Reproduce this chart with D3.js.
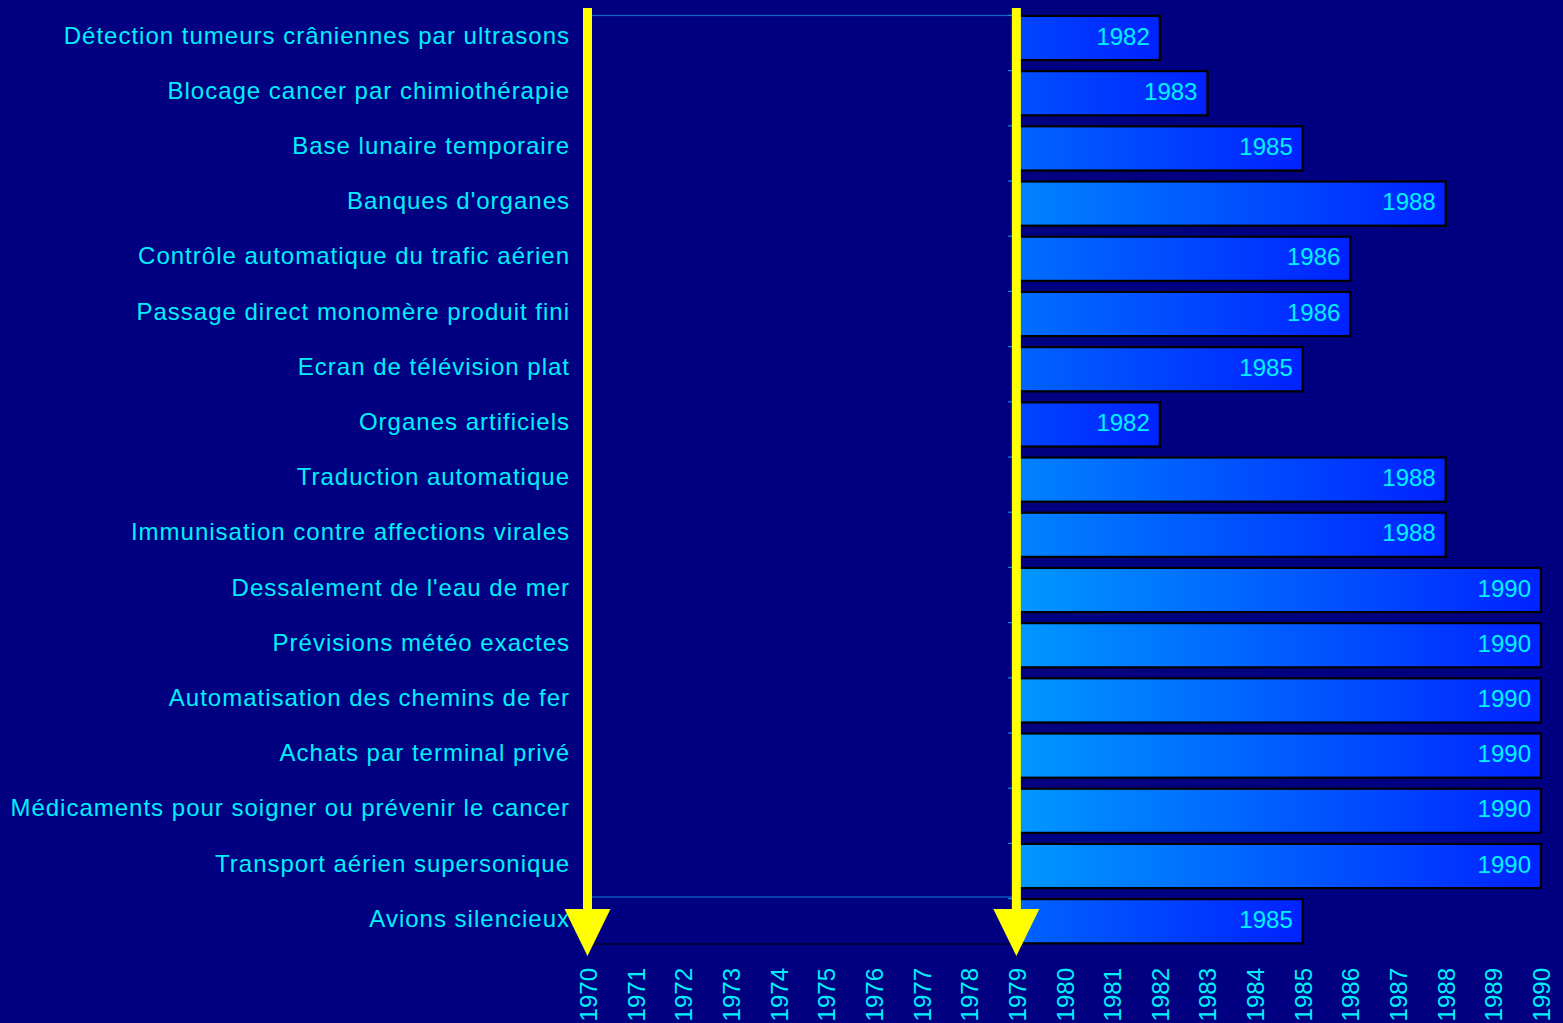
<!DOCTYPE html>
<html>
<head>
<meta charset="utf-8">
<script src="https://cdn.jsdelivr.net/npm/d3@7"></script>
<style>
  html, body { margin: 0; padding: 0; background: #000080; }
  svg { display: block; }
  text { font-family: "Liberation Sans", Arial, sans-serif; }
</style>
</head>
<body>
<div id="chart"></div>
<script>
// categories (top to bottom) and the year each one is expected
const categories = [
  "Détection tumeurs crâniennes par ultrasons",
  "Blocage cancer par chimiothérapie",
  "Base lunaire temporaire",
  "Banques d'organes",
  "Contrôle automatique du trafic aérien",
  "Passage direct monomère produit fini",
  "Ecran de télévision plat",
  "Organes artificiels",
  "Traduction automatique",
  "Immunisation contre affections virales",
  "Dessalement de l'eau de mer",
  "Prévisions météo exactes",
  "Automatisation des chemins de fer",
  "Achats par terminal privé",
  "Médicaments pour soigner ou prévenir le cancer",
  "Transport aérien supersonique",
  "Avions silencieux"
]
const years = [1982, 1983, 1985, 1988, 1986, 1986, 1985, 1982, 1988, 1988,
               1990, 1990, 1990, 1990, 1990, 1990, 1985]
const startYear = 1979
const arrowYears = [1970, 1979]
const tickYears = d3.range(1970, 1991)

const width = 1563, height = 1023
const cyan = '#00f0ff'

const svg = d3.select('#chart').append('svg')
  .attr('width', width)
  .attr('height', height)

svg.append('rect')
  .attr('width', width)
  .attr('height', height)
  .attr('fill', '#000080')

const x = d3.scaleLinear()
  .domain([1970, 1990])
  .range([588, 1541])

const y = d3.scaleBand()
  .domain(categories)
  .range([10.4, 948.8])
  .paddingInner(0.2)
  .paddingOuter(0.1)

const defs = svg.append('defs')
const maxW = x(1990) - x(startYear)
const shade = d3.interpolateRgb('#0026ff', '#0098ff')

// plot frame over the empty years
svg.append('rect')
  .attr('x', x(1970) + 3)
  .attr('y', 15.5)
  .attr('width', x(startYear) - x(1970) - 4)
  .attr('height', 881.5)
  .attr('fill', 'none')
  .attr('stroke', '#0a6ad0')
  .attr('stroke-width', 1.2)

// small ticks on the category axis
svg.selectAll('.ytick')
  .data(categories)
  .join('line')
  .attr('class', 'ytick')
  .attr('x1', x(startYear) - 9)
  .attr('x2', x(startYear) + 4)
  .attr('y1', d => y(d) - 0.5)
  .attr('y2', d => y(d) - 0.5)
  .attr('stroke', '#0a8ae8')
  .attr('stroke-width', 1.2)

// bars
const bars = svg.selectAll('.bar')
  .data(categories.map((c, i) => ({ c, v: years[i], i })))
  .join('g')
  .attr('class', 'bar')

bars.each(function(d) {
  const w = x(d.v) - x(startYear)
  const g = defs.append('linearGradient')
    .attr('id', 'grad' + d.i)
    .attr('x1', '0%').attr('x2', '100%')
    .attr('y1', '0%').attr('y2', '0%')
  g.append('stop').attr('offset', '0%').attr('stop-color', shade(w / maxW))
  g.append('stop').attr('offset', '100%').attr('stop-color', '#0022ff')
})

bars.append('rect')
  .attr('x', d => x(startYear) + 1)
  .attr('y', d => y(d.c) + 1)
  .attr('width', d => x(d.v) - x(startYear))
  .attr('height', y.bandwidth())
  .attr('fill', '#000')

bars.append('rect')
  .attr('x', d => x(startYear))
  .attr('y', d => y(d.c))
  .attr('width', d => x(d.v) - x(startYear))
  .attr('height', y.bandwidth())
  .attr('fill', d => `url(#grad${d.i})`)
  .attr('stroke', '#000')
  .attr('stroke-width', 2.2)

bars.append('text')
  .attr('x', d => x(d.v) - 10)
  .attr('y', d => y(d.c) + y.bandwidth() / 2 - 2)
  .attr('text-anchor', 'end')
  .attr('dominant-baseline', 'central')
  .attr('fill', cyan)
  .attr('font-size', 24)
  .text(d => d.v)

// category labels
svg.selectAll('.cat')
  .data(categories)
  .join('text')
  .attr('class', 'cat')
  .attr('x', 570)
  .attr('y', d => y(d) + y.bandwidth() / 2 - 3)
  .attr('text-anchor', 'end')
  .attr('dominant-baseline', 'central')
  .attr('fill', cyan)
  .attr('font-size', 24)
  .attr('letter-spacing', 1)
  .text(d => d)

// x axis
const xAxis = d3.axisBottom(x)
  .tickValues(tickYears)
  .tickFormat(d3.format('d'))
  .tickSize(0)

const ax = svg.append('g')
  .attr('transform', 'translate(0,944)')
  .call(xAxis)

ax.select('.domain').remove()
ax.append('line')
  .attr('x1', x(1970))
  .attr('x2', x(startYear))
  .attr('stroke', '#000')
  .attr('stroke-width', 1.2)

ax.selectAll('.tick text')
  .attr('font-family', '"Liberation Sans", Arial, sans-serif')
  .attr('font-size', 24)
  .attr('fill', cyan)
  .attr('text-anchor', 'end')
  .attr('dominant-baseline', 'central')
  .attr('transform', 'translate(0,24) rotate(-90)')
  .attr('x', 0)
  .attr('y', 0)
  .attr('dy', null)

// yellow arrows
const arrows = svg.selectAll('.arrow')
  .data(arrowYears)
  .join('g')
  .attr('class', 'arrow')
  .attr('transform', d => `translate(${x(d) - 0.5},0)`)

arrows.append('rect')
  .attr('x', -4.5)
  .attr('y', 8)
  .attr('width', 9)
  .attr('height', 905)
  .attr('fill', '#ffff00')

arrows.append('path')
  .attr('d', 'M-23,909 L23,909 L0,956 Z')
  .attr('fill', '#ffff00')
</script>
</body>
</html>
